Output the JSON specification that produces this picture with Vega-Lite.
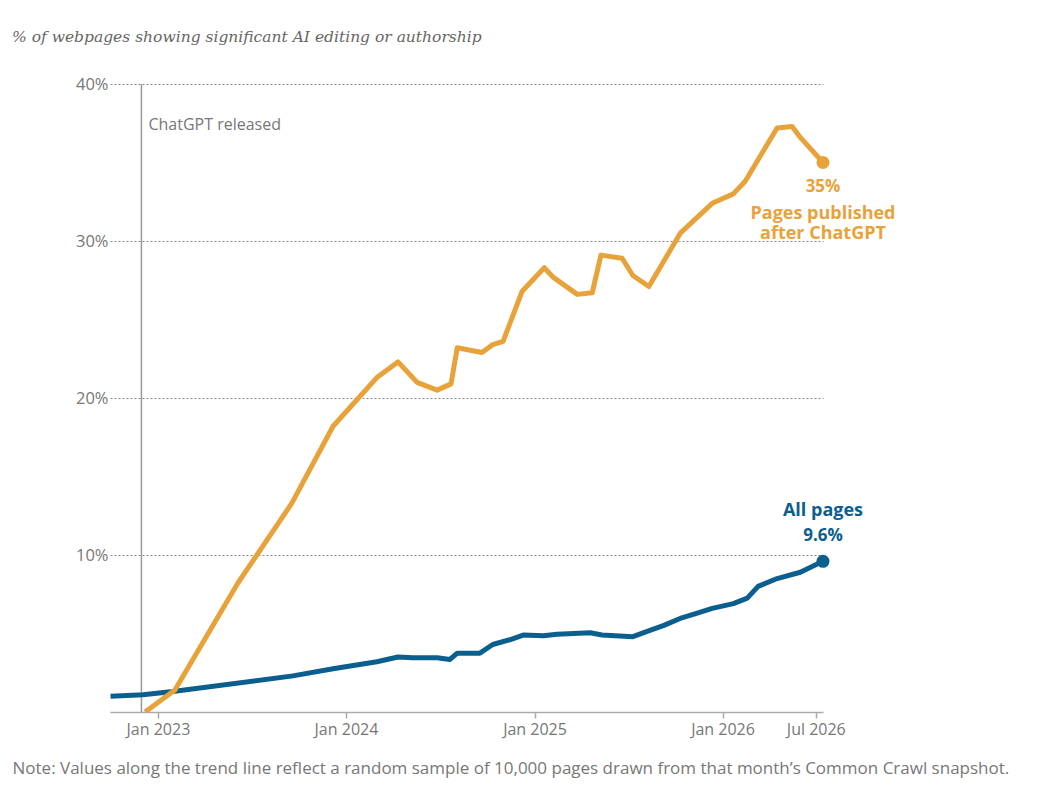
{
  "$schema": "https://vega.github.io/schema/vega-lite/v6.json",
  "width": 713,
  "height": 628,
  "autosize": {"type": "none"},
  "padding": {"left": 110, "top": 84, "right": 217, "bottom": 84},
  "background": "white",
  "title": {
    "text": "% of webpages showing significant AI editing or authorship",
    "anchor": "start",
    "frame": "group",
    "dx": -98,
    "offset": 16,
    "baseline": "bottom",
    "font": "DejaVu Serif",
    "fontStyle": "italic",
    "fontWeight": "normal",
    "fontSize": 15.5,
    "color": "#666666"
  },
  "datasets": {
    "trend": [
      {"series": "All pages", "date": "2022-10-01", "pct": 1.0},
      {"series": "All pages", "date": "2022-12-03", "pct": 1.1},
      {"series": "All pages", "date": "2023-01-30", "pct": 1.3},
      {"series": "All pages", "date": "2023-09-20", "pct": 2.3},
      {"series": "All pages", "date": "2023-12-07", "pct": 2.75},
      {"series": "All pages", "date": "2024-03-01", "pct": 3.2},
      {"series": "All pages", "date": "2024-04-11", "pct": 3.5},
      {"series": "All pages", "date": "2024-05-10", "pct": 3.45},
      {"series": "All pages", "date": "2024-06-26", "pct": 3.45},
      {"series": "All pages", "date": "2024-07-21", "pct": 3.35},
      {"series": "All pages", "date": "2024-08-04", "pct": 3.75},
      {"series": "All pages", "date": "2024-09-17", "pct": 3.75},
      {"series": "All pages", "date": "2024-10-12", "pct": 4.3},
      {"series": "All pages", "date": "2024-11-14", "pct": 4.6},
      {"series": "All pages", "date": "2024-12-10", "pct": 4.9},
      {"series": "All pages", "date": "2025-01-18", "pct": 4.85},
      {"series": "All pages", "date": "2025-02-14", "pct": 4.95},
      {"series": "All pages", "date": "2025-04-19", "pct": 5.05},
      {"series": "All pages", "date": "2025-05-12", "pct": 4.9},
      {"series": "All pages", "date": "2025-07-11", "pct": 4.8},
      {"series": "All pages", "date": "2025-08-13", "pct": 5.2},
      {"series": "All pages", "date": "2025-09-08", "pct": 5.5},
      {"series": "All pages", "date": "2025-10-14", "pct": 6.0},
      {"series": "All pages", "date": "2025-11-13", "pct": 6.3},
      {"series": "All pages", "date": "2025-12-12", "pct": 6.6},
      {"series": "All pages", "date": "2026-01-22", "pct": 6.9},
      {"series": "All pages", "date": "2026-02-18", "pct": 7.25},
      {"series": "All pages", "date": "2026-03-11", "pct": 8.0},
      {"series": "All pages", "date": "2026-04-17", "pct": 8.5},
      {"series": "All pages", "date": "2026-06-01", "pct": 8.9},
      {"series": "All pages", "date": "2026-07-15", "pct": 9.6},
      {"series": "After ChatGPT", "date": "2022-12-07", "pct": 0},
      {"series": "After ChatGPT", "date": "2023-02-03", "pct": 1.4},
      {"series": "After ChatGPT", "date": "2023-06-05", "pct": 8.2},
      {"series": "After ChatGPT", "date": "2023-09-18", "pct": 13.3},
      {"series": "After ChatGPT", "date": "2023-12-07", "pct": 18.2},
      {"series": "After ChatGPT", "date": "2024-03-01", "pct": 21.3},
      {"series": "After ChatGPT", "date": "2024-04-11", "pct": 22.3},
      {"series": "After ChatGPT", "date": "2024-05-18", "pct": 21.0},
      {"series": "After ChatGPT", "date": "2024-06-26", "pct": 20.5},
      {"series": "After ChatGPT", "date": "2024-07-23", "pct": 20.9},
      {"series": "After ChatGPT", "date": "2024-08-04", "pct": 23.2},
      {"series": "After ChatGPT", "date": "2024-09-21", "pct": 22.9},
      {"series": "After ChatGPT", "date": "2024-10-12", "pct": 23.4},
      {"series": "After ChatGPT", "date": "2024-11-01", "pct": 23.6},
      {"series": "After ChatGPT", "date": "2024-12-08", "pct": 26.8},
      {"series": "After ChatGPT", "date": "2025-01-20", "pct": 28.3},
      {"series": "After ChatGPT", "date": "2025-02-06", "pct": 27.7},
      {"series": "After ChatGPT", "date": "2025-03-25", "pct": 26.6},
      {"series": "After ChatGPT", "date": "2025-04-23", "pct": 26.7},
      {"series": "After ChatGPT", "date": "2025-05-10", "pct": 29.1},
      {"series": "After ChatGPT", "date": "2025-06-20", "pct": 28.9},
      {"series": "After ChatGPT", "date": "2025-07-11", "pct": 27.8},
      {"series": "After ChatGPT", "date": "2025-08-11", "pct": 27.1},
      {"series": "After ChatGPT", "date": "2025-10-11", "pct": 30.5},
      {"series": "After ChatGPT", "date": "2025-12-12", "pct": 32.4},
      {"series": "After ChatGPT", "date": "2026-01-22", "pct": 33.0},
      {"series": "After ChatGPT", "date": "2026-02-14", "pct": 33.8},
      {"series": "After ChatGPT", "date": "2026-03-15", "pct": 35.4},
      {"series": "After ChatGPT", "date": "2026-04-17", "pct": 37.2},
      {"series": "After ChatGPT", "date": "2026-05-16", "pct": 37.3},
      {"series": "After ChatGPT", "date": "2026-06-01", "pct": 36.6},
      {"series": "After ChatGPT", "date": "2026-07-15", "pct": 35.0}
    ],
    "events": [
      {"event": "ChatGPT released", "date": "2022-11-30", "top": 40}
    ]
  },
  "layer": [
    {
      "data": {"name": "events"},
      "mark": {"type": "rule", "color": "#999999", "strokeWidth": 1.5},
      "encoding": {
        "x": {"field": "date", "type": "temporal", "scale": {"type": "utc"}}
      }
    },
    {
      "data": {"name": "events"},
      "mark": {"type": "text", "align": "left", "baseline": "middle", "dx": 7, "dy": 41, "font": "Open Sans", "fontSize": 16, "fill": "#777777"},
      "encoding": {
        "x": {"field": "date", "type": "temporal", "scale": {"type": "utc"}},
        "y": {"field": "top", "type": "quantitative"},
        "text": {"field": "event", "type": "nominal"}
      }
    },
    {
      "data": {"name": "trend"},
      "encoding": {
        "x": {
          "field": "date",
          "type": "temporal",
          "scale": {
            "type": "utc",
            "domain": [
              {"year": 2022, "month": 9, "date": 30, "utc": true},
              {"year": 2026, "month": 7, "date": 15, "utc": true}
            ]
          },
          "axis": {
            "values": [
              {"year": 2023, "month": 1, "date": 1, "utc": true},
              {"year": 2024, "month": 1, "date": 1, "utc": true},
              {"year": 2025, "month": 1, "date": 1, "utc": true},
              {"year": 2026, "month": 1, "date": 1, "utc": true},
              {"year": 2026, "month": 7, "date": 1, "utc": true}
            ],
            "labelExpr": "utcFormat(datum.value, '%b %Y')",
            "grid": false,
            "domainColor": "#aaaaaa",
            "domainWidth": 1.5,
            "tickColor": "#aaaaaa",
            "tickWidth": 1.5,
            "tickSize": 6,
            "labelFont": "Open Sans",
            "labelFontSize": 16,
            "labelColor": "#777777",
            "labelPadding": 3,
            "title": "Note: Values along the trend line reflect a random sample of 10,000 pages drawn from that month’s Common Crawl snapshot.",
            "titleFont": "Open Sans",
            "titleFontSize": 17,
            "titleFontWeight": "normal",
            "titleColor": "#777777",
            "titleAnchor": "start",
            "titleAlign": "left",
            "titleBaseline": "middle",
            "titleX": -98,
            "titleY": 56
          }
        },
        "y": {
          "field": "pct",
          "type": "quantitative",
          "scale": {"domain": [0, 40]},
          "axis": {
            "values": [10, 20, 30, 40],
            "labelExpr": "datum.value + '%'",
            "domain": false,
            "ticks": false,
            "grid": true,
            "gridDash": [2, 2],
            "gridColor": "#888888",
            "gridWidth": 1,
            "labelPadding": 2,
            "labelFont": "Open Sans",
            "labelFontSize": 16.5,
            "labelColor": "#777777",
            "title": null
          }
        },
        "color": {
          "field": "series",
          "type": "nominal",
          "scale": {"domain": ["After ChatGPT", "All pages"], "range": ["#E8A23A", "#0B5F8F"]},
          "legend": null
        }
      },
      "layer": [
        {
          "mark": {"type": "line", "strokeWidth": 5, "strokeJoin": "round", "clip": true}
        },
        {
          "transform": [
            {"window": [{"op": "row_number", "as": "rn"}], "groupby": ["series"], "sort": [{"field": "date", "order": "descending"}]},
            {"filter": "datum.rn === 1"},
            {"calculate": "format(datum.pct, '.2~r') + '%'", "as": "label"}
          ],
          "layer": [
            {"mark": {"type": "circle", "size": 170, "opacity": 1}},
            {
              "transform": [{"filter": "datum.series === 'After ChatGPT'"}],
              "mark": {"type": "text", "baseline": "middle", "dy": 24, "font": "Open Sans", "fontWeight": "bold", "fontSize": 17},
              "encoding": {"text": {"field": "label"}}
            },
            {
              "transform": [{"filter": "datum.series === 'After ChatGPT'"}],
              "mark": {"type": "text", "baseline": "alphabetic", "dy": 56, "lineHeight": 20, "font": "Open Sans", "fontWeight": "bold", "fontSize": 18, "text": ["Pages published", "after ChatGPT"]}
            },
            {
              "transform": [{"filter": "datum.series === 'All pages'"}],
              "mark": {"type": "text", "baseline": "middle", "dy": -25, "font": "Open Sans", "fontWeight": "bold", "fontSize": 17},
              "encoding": {"text": {"field": "label"}}
            },
            {
              "transform": [{"filter": "datum.series === 'All pages'"}],
              "mark": {"type": "text", "baseline": "middle", "dy": -50, "font": "Open Sans", "fontWeight": "bold", "fontSize": 18, "text": "All pages"}
            }
          ]
        }
      ]
    }
  ],
  "config": {"view": {"stroke": null}}
}
